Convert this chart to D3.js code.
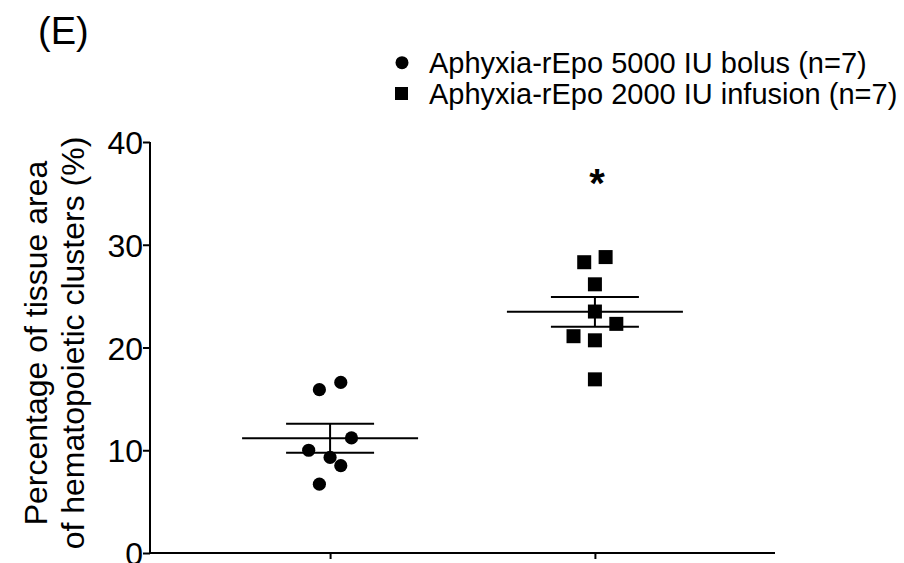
<!DOCTYPE html>
<html lang="en">
<head>
<meta charset="utf-8">
<script src="https://d3js.org/d3.v7.min.js"></script>
<title>Hematopoietic clusters</title>
<style>
    body { margin: 0; background: white; }
    svg { display: block; font-family: "Liberation Sans", Arial, sans-serif; }
</style>
</head>
<body>
<svg width="904" height="563"></svg>
<script>
// groups on the x axis
const groups = ["bolus", "infusion"]
const legendLabels = ["Aphyxia-rEpo 5000 IU bolus (n=7)", "Aphyxia-rEpo 2000 IU infusion (n=7)"]

// values (%)
const bolusValues    = [15.9, 16.6, 11.2, 10.0, 9.3, 8.5, 6.7]
const bolusSlot      = [-1, 1, 2, -2, 0, 1, -1]       // column scatter slot
const infusionValues = [28.3, 28.8, 26.15, 23.5, 22.3, 21.1, 20.7, 16.9]
const infusionSlot   = [-1, 1, 0, 0, 2, -2, 0, 0]

const yTicks = [0, 10, 20, 30, 40]
const starValue = 36.5

const svg = d3.select("svg")
let margins = {top: 142, bottom: 10, left: 150, right: 129}

const xScale = d3.scalePoint()
    .domain(groups)
    .range([margins.left, 904 - margins.right])
    .padding(0.68)
const yScale = d3.scaleLinear()
    .domain([0, 40])
    .range([563 - margins.bottom, margins.top])
const slotScale = d3.scaleLinear().domain([0, 1]).range([0, 10.7])

// axes
let y_axis = svg.append("g")
    .attr("transform", "translate(" + margins.left + ",0)")
    .call(d3.axisLeft(yScale).tickValues(yTicks).tickSize(7).tickPadding(0).tickFormat(d3.format("d")))
y_axis.selectAll("text").style("font-size", "32px").attr("dy", "0.36em")

let x_axis = svg.append("g")
    .attr("transform", "translate(0," + yScale(0) + ")")
    .call(d3.axisBottom(xScale).tickSize(6).tickFormat(""))
x_axis.select(".domain").attr("d", "M" + margins.left + ",0H" + (904 - margins.right))

svg.selectAll(".domain, .tick line").attr("stroke", "#000").attr("stroke-width", 2)
y_axis.select(".domain").attr("d", "M0," + yScale(40) + "V" + yScale(0))

// y axis title, two lines
const yTitle = svg.append("text")
    .attr("transform", "translate(0,343) rotate(-90)")
    .attr("text-anchor", "middle")
    .style("font-size", "32px")
yTitle.append("tspan").attr("x", 0).attr("y", 47).text("Percentage of tissue area")
yTitle.append("tspan").attr("x", 0).attr("y", 84).text("of hematopoietic clusters (%)")

// mean and SEM per group
function drawSummary(values, g) {
    const mean = d3.mean(values)
    const sem = d3.deviation(values) / Math.sqrt(values.length)
    const cx = xScale(g)
    const s = svg.append("g").attr("stroke", "#000").attr("stroke-width", 2)
    s.append("line").attr("x1", cx - 88).attr("x2", cx + 88).attr("y1", yScale(mean)).attr("y2", yScale(mean))
    s.append("line").attr("x1", cx - 44).attr("x2", cx + 44).attr("y1", yScale(mean + sem)).attr("y2", yScale(mean + sem))
    s.append("line").attr("x1", cx - 44).attr("x2", cx + 44).attr("y1", yScale(mean - sem)).attr("y2", yScale(mean - sem))
    s.append("line").attr("x1", cx).attr("x2", cx).attr("y1", yScale(mean + sem)).attr("y2", yScale(mean - sem))
}
drawSummary(bolusValues, "bolus")
drawSummary(infusionValues, "infusion")

// points
svg.append("g").selectAll("circle")
    .data(bolusValues)
    .enter()
    .append("circle")
    .attr("cx", (d, i) => xScale("bolus") + slotScale(bolusSlot[i]))
    .attr("cy", d => yScale(d))
    .attr("r", 6.6)
    .attr("fill", "#000")

svg.append("g").selectAll("rect")
    .data(infusionValues)
    .enter()
    .append("rect")
    .attr("x", (d, i) => xScale("infusion") + slotScale(infusionSlot[i]) - 7)
    .attr("y", d => yScale(d) - 7)
    .attr("width", 14)
    .attr("height", 14)
    .attr("fill", "#000")

// significance star
svg.append("text")
    .attr("x", xScale("infusion") + 2)
    .attr("y", yScale(starValue) + 19)
    .attr("text-anchor", "middle")
    .style("font-size", "40px")
    .style("font-weight", "bold")
    .text("*")

// panel label
svg.append("text").attr("x", 38).attr("y", 44).style("font-size", "38px").text("(E)")

// legend
const legend = svg.append("g")
legend.append("circle").attr("cx", 402).attr("cy", 62.7).attr("r", 6.5).attr("fill", "#000")
legend.append("rect").attr("x", 395).attr("y", 87).attr("width", 13).attr("height", 13).attr("fill", "#000")
legend.selectAll("text")
    .data(legendLabels)
    .enter()
    .append("text")
    .attr("x", 429)
    .attr("y", (d, i) => 73 + i * 30.7)
    .style("font-size", "29px")
    .text(d => d)
</script>
</body>
</html>
